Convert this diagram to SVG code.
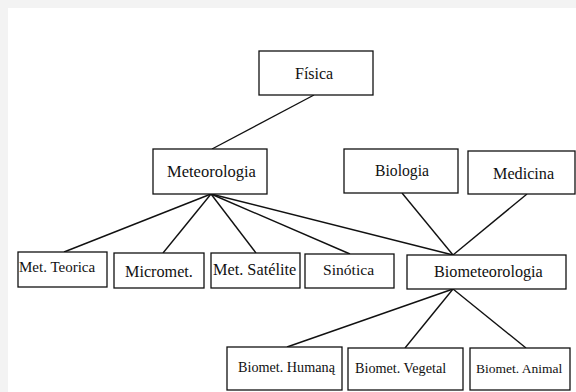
<svg xmlns="http://www.w3.org/2000/svg" width="576" height="392" viewBox="0 0 576 392">
<style>
.box{fill:#fff;stroke:#111;stroke-width:1.3}
text{font-family:'Liberation Serif','DejaVu Serif',serif;fill:#111}
.con{stroke:#111;stroke-width:1.4;fill:none}
</style>
<rect width="576" height="392" fill="#f3f3f3"/>
<rect x="8" y="8" width="568" height="384" fill="#fff"/>
<g id="connectors">
<line class="con" x1="314" y1="95" x2="212" y2="149"/>
<line class="con" x1="211" y1="194" x2="64" y2="252"/>
<line class="con" x1="211" y1="194" x2="163" y2="253"/>
<line class="con" x1="211" y1="194" x2="256" y2="253"/>
<line class="con" x1="211" y1="194" x2="350" y2="254"/>
<line class="con" x1="211" y1="194" x2="453" y2="255"/>
<line class="con" x1="402" y1="193" x2="453" y2="255"/>
<line class="con" x1="527" y1="194" x2="453" y2="255"/>
<line class="con" x1="453" y1="289" x2="287" y2="347"/>
<line class="con" x1="453" y1="289" x2="405" y2="348"/>
<line class="con" x1="453" y1="289" x2="526" y2="348"/>
</g>
<g id="fisica"><rect class="box" x="259" y="51" width="114" height="44"/><text x="295" y="79" font-family="Liberation Serif, serif" font-size="16">Física</text></g>
<g id="meteorologia"><rect class="box" x="153" y="149" width="114" height="45"/><text x="167" y="177" font-family="Liberation Serif, serif" font-size="16.5">Meteorologia</text></g>
<g id="biologia"><rect class="box" x="344" y="149" width="114" height="44"/><text x="375" y="176" font-family="Liberation Serif, serif" font-size="15.7">Biologia</text></g>
<g id="medicina"><rect class="box" x="468" y="151" width="107" height="43"/><text x="493" y="179" font-family="Liberation Serif, serif" font-size="16.2">Medicina</text></g>
<g id="met-teorica"><rect class="box" x="18" y="252" width="89" height="35"/><text x="19" y="272" font-family="Liberation Serif, serif" font-size="15">Met. Teorica</text></g>
<g id="micromet"><rect class="box" x="114" y="253" width="90" height="35"/><text x="125" y="277" font-family="Liberation Serif, serif" font-size="16.2">Micromet.</text></g>
<g id="met-satelite"><rect class="box" x="211" y="253" width="89" height="35"/><text x="213" y="275" font-family="Liberation Serif, serif" font-size="16.3">Met. Satélite</text></g>
<g id="sinotica"><rect class="box" x="305" y="254" width="89" height="34"/><text x="323" y="275" font-family="Liberation Serif, serif" font-size="15.6">Sinótica</text></g>
<g id="biometeorologia"><rect class="box" x="407" y="255" width="159" height="34"/><text x="434" y="277" font-family="Liberation Serif, serif" font-size="16.2">Biometeorologia</text></g>
<g id="biomet-humana"><rect class="box" x="227" y="347" width="115" height="43"/><text x="238" y="372" font-family="Liberation Serif, serif" font-size="14.2">Biomet. Humaną</text></g>
<g id="biomet-vegetal"><rect class="box" x="348" y="348" width="115" height="42"/><text x="355" y="373" font-family="Liberation Serif, serif" font-size="14.2">Biomet. Vegetal</text></g>
<g id="biomet-animal"><rect class="box" x="470" y="348" width="100" height="42"/><text x="476" y="373" font-family="Liberation Serif, serif" font-size="13.5">Biomet. Animal</text></g>
</svg>
